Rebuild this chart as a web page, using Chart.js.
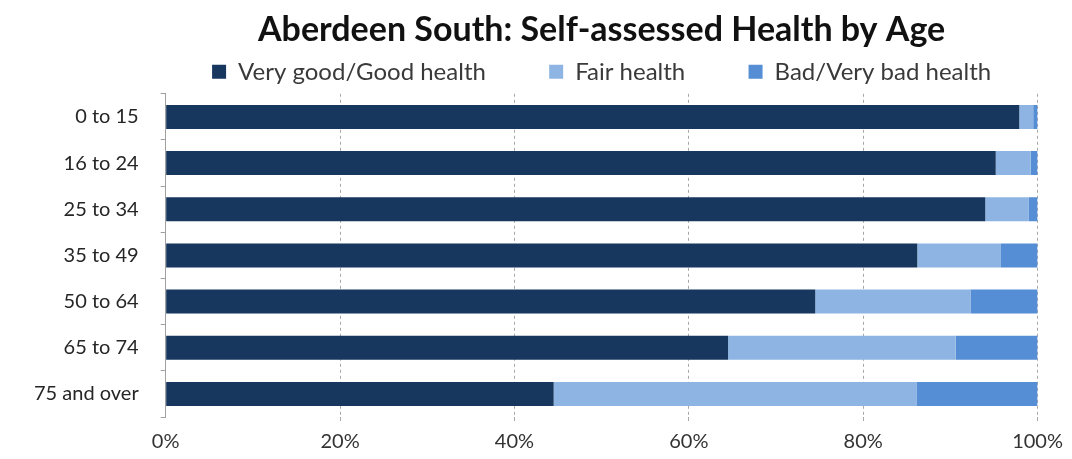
<!DOCTYPE html>
<html>
<head>
<meta charset="utf-8">
<script src="https://cdn.jsdelivr.net/npm/chart.js@4.4.1/dist/chart.umd.min.js"></script>
<style>
  html, body { margin: 0; padding: 0; background: #ffffff; }
  #wrap { width: 1072px; height: 459px; }
</style>
</head>
<body>
<div id="wrap"><canvas id="c"></canvas></div>
<script>
// Age bands and the share of residents (%) in each self-assessed health group
const ageBands = ['0 to 15', '16 to 24', '25 to 34', '35 to 49', '50 to 64', '65 to 74', '75 and over'];
const goodHealth = [97.9, 95.2, 94.0, 86.2, 74.5, 64.5, 44.5];
const fairHealth = [1.6, 4.0, 5.0, 9.6, 17.8, 26.1, 41.6];
const badHealth = [0.5, 0.8, 1.0, 4.2, 7.7, 9.4, 13.9];
const seriesNames = ['Very good/Good health', 'Fair health', 'Bad/Very bad health'];
const percentTicks = [0, 20, 40, 60, 80, 100];

const FONT = 'Lato, "Open Sans", sans-serif';
const LEGEND_SIZE = 24;
const LEGEND_GAP = 64;   // space between one legend entry's text and the next swatch
const LEGEND_PAD = 8;

// Legend entries are separated by trailing spaces so the row keeps a compact height
const measureCtx = document.createElement('canvas').getContext('2d');
measureCtx.font = LEGEND_SIZE + 'px ' + FONT;
const spaceWidth = measureCtx.measureText(' ').width || 5;
const gapSpaces = ' '.repeat(Math.max(0, Math.round((LEGEND_GAP - LEGEND_PAD) / spaceWidth)));

new Chart(document.getElementById('c'), {
  type: 'bar',
  data: {
    labels: ageBands,
    datasets: [
      { label: seriesNames[0], data: goodHealth, backgroundColor: '#17375e' },
      { label: seriesNames[1], data: fairHealth, backgroundColor: '#8db4e2' },
      { label: seriesNames[2], data: badHealth, backgroundColor: '#558ed5' }
    ]
  },
  options: {
    indexAxis: 'y',
    responsive: true,
    maintainAspectRatio: false,
    animation: false,
    layout: { autoPadding: false, padding: { left: 12, right: 31, top: 0, bottom: -4 } },
    datasets: { bar: { barPercentage: 0.52, categoryPercentage: 1.0, borderWidth: 0 } },
    plugins: {
      tooltip: { enabled: false },
      title: {
        display: true,
        fullSize: false,
        text: 'Aberdeen South: Self-assessed Health by Age',
        color: '#111111',
        font: { family: FONT, size: 34, weight: 'bold' },
        padding: { top: 10, bottom: 1 }
      },
      legend: {
        display: true,
        fullSize: false,
        position: 'top',
        labels: {
          color: '#3a3a3a',
          font: { family: FONT, size: LEGEND_SIZE },
          boxWidth: 14,
          boxHeight: 14,
          padding: LEGEND_PAD,
          generateLabels: (chart) => {
            const items = Chart.defaults.plugins.legend.labels.generateLabels(chart);
            items.forEach((it, i) => { if (i < items.length - 1) it.text = it.text + gapSpaces; });
            return items;
          }
        }
      }
    },
    scales: {
      x: {
        stacked: true,
        min: 0,
        max: 100,
        afterBuildTicks: (axis) => { axis.ticks = percentTicks.map(v => ({ value: v })); },
        ticks: {
          callback: (v) => v + '%',
          color: '#333333',
          font: { family: FONT, size: 20 },
          padding: 9
        },
        grid: {
          color: (ctx) => (ctx.tick && ctx.tick.value === 0) ? 'rgba(0,0,0,0)' : '#a8a8a8',
          lineWidth: 1,
          tickLength: 4,
          drawTicks: true
        },
        border: { display: false, dash: [3, 3] }
      },
      y: {
        stacked: true,
        ticks: {
          color: '#262626',
          font: { family: FONT, size: 20 },
          padding: 22
        },
        grid: {
          offset: true,
          drawOnChartArea: false,
          tickLength: 5,
          color: '#a0a0a0'
        },
        border: { display: true, color: '#a0a0a0', width: 1 }
      }
    }
  }
});
</script>
</body>
</html>
